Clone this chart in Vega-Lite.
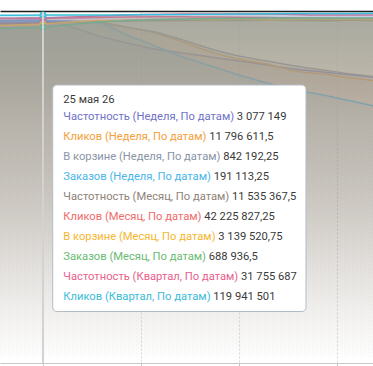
{
  "$schema": "https://vega.github.io/schema/vega-lite/v6.json",
  "width": 373,
  "height": 351,
  "autosize": {"type": "none"},
  "padding": {"top": 12, "left": 0, "right": 0, "bottom": 3},
  "background": "white",
  "config": {
    "view": {"stroke": null},
    "locale": {"number": {"decimal": ",", "thousands": " ", "grouping": [3], "currency": ["", ""]}},
    "text": {"font": "Roboto", "fontSize": 11.2}
  },
  "datasets": {
    "series": [
      {"date": "2026-05-21", "freq_w": 3069231, "clicks_w": 11713379, "cart_w": 837893, "orders_w": 190975, "freq_m": 11493161, "clicks_m": 42203696, "cart_m": 3120370, "orders_m": 685128, "freq_q": 31701852, "clicks_q": 119862378},
      {"date": "2026-05-23", "freq_w": 3073718, "clicks_w": 11748136, "cart_w": 839125, "orders_w": 190975, "freq_m": 11510113, "clicks_m": 42215947, "cart_m": 3129630, "orders_m": 687179, "freq_q": 31729458, "clicks_q": 119896851},
      {"date": "2026-05-25", "freq_w": 3077149, "clicks_w": 11796611.5, "cart_w": 842192.25, "orders_w": 191113.25, "freq_m": 11535367.5, "clicks_m": 42225827.25, "cart_m": 3139520.75, "orders_m": 688936.5, "freq_q": 31755687, "clicks_q": 119941501},
      {"date": "2026-05-27", "freq_w": 3015385, "clicks_w": 11835031, "cart_w": 840357, "orders_w": 190975, "freq_m": 11560967, "clicks_m": 42264950, "cart_m": 3157407, "orders_m": 694359, "freq_q": 31839885, "clicks_q": 119965797},
      {"date": "2026-05-29", "freq_w": 2934615, "clicks_w": 11835031, "cart_w": 837893, "orders_w": 189858, "freq_m": 11577919, "clicks_m": 42326203, "cart_m": 3171296, "orders_m": 699487, "freq_q": 31931908, "clicks_q": 119965797},
      {"date": "2026-05-31", "freq_w": 2871795, "clicks_w": 11678621, "cart_w": 826803, "orders_w": 183157, "freq_m": 11594871, "clicks_m": 42387457, "cart_m": 3175926, "orders_m": 702564, "freq_q": 32023931, "clicks_q": 120034742},
      {"date": "2026-06-02", "freq_w": 2817949, "clicks_w": 11470074, "cart_w": 815713, "orders_w": 177014, "freq_m": 11601652, "clicks_m": 42411958, "cart_m": 3180556, "orders_m": 704615, "freq_q": 32069943, "clicks_q": 120103688},
      {"date": "2026-06-04", "freq_w": 2782051, "clicks_w": 11157254, "cart_w": 795998, "orders_w": 170872, "freq_m": 11611822, "clicks_m": 42411958, "cart_m": 3183000, "orders_m": 705641, "freq_q": 32115954, "clicks_q": 120172634},
      {"date": "2026-06-06", "freq_w": 2746154, "clicks_w": 10809676, "cart_w": 773818, "orders_w": 165846, "freq_m": 11615000, "clicks_m": 42387457, "cart_m": 3179000, "orders_m": 706667, "freq_q": 32115954, "clicks_q": 120241580},
      {"date": "2026-06-08", "freq_w": 2710256, "clicks_w": 10566371, "cart_w": 756568, "orders_w": 160821, "freq_m": 11608000, "clicks_m": 42362955, "cart_m": 3182000, "orders_m": 706667, "freq_q": 32115954, "clicks_q": 120310526},
      {"date": "2026-06-10", "freq_w": 2674359, "clicks_w": 10392582, "cart_w": 744246, "orders_w": 156353, "freq_m": 11620000, "clicks_m": 42326203, "cart_m": 3178000, "orders_m": 707692, "freq_q": 32115954, "clicks_q": 120379472},
      {"date": "2026-06-12", "freq_w": 2638462, "clicks_w": 10149278, "cart_w": 731924, "orders_w": 152445, "freq_m": 11612000, "clicks_m": 42264950, "cart_m": 3181000, "orders_m": 707692, "freq_q": 32069943, "clicks_q": 120448418},
      {"date": "2026-06-14", "freq_w": 2611538, "clicks_w": 10045004, "cart_w": 722066, "orders_w": 149653, "freq_m": 11606000, "clicks_m": 42203696, "cart_m": 3184000, "orders_m": 707692, "freq_q": 32023931, "clicks_q": 120482891},
      {"date": "2026-06-16", "freq_w": 2584615, "clicks_w": 9905973, "cart_w": 712209, "orders_w": 146302, "freq_m": 11618000, "clicks_m": 42166944, "cart_m": 3180000, "orders_m": 707692, "freq_q": 32023931, "clicks_q": 120517364},
      {"date": "2026-06-18", "freq_w": 2557692, "clicks_w": 9801700, "cart_w": 704815, "orders_w": 142952, "freq_m": 11610000, "clicks_m": 42142442, "cart_m": 3182000, "orders_m": 707692, "freq_q": 32023931, "clicks_q": 120551837}
    ],
    "tip": [
      {"row": 1, "label": "Частотность (Неделя, По датам)", "value": 3077149},
      {"row": 2, "label": "Кликов (Неделя, По датам)", "value": 11796611.5},
      {"row": 3, "label": "В корзине (Неделя, По датам)", "value": 842192.25},
      {"row": 4, "label": "Заказов (Неделя, По датам)", "value": 191113.25},
      {"row": 5, "label": "Частотность (Месяц, По датам)", "value": 11535367.5},
      {"row": 6, "label": "Кликов (Месяц, По датам)", "value": 42225827.25},
      {"row": 7, "label": "В корзине (Месяц, По датам)", "value": 3139520.75},
      {"row": 8, "label": "Заказов (Месяц, По датам)", "value": 688936.5},
      {"row": 9, "label": "Частотность (Квартал, По датам)", "value": 31755687},
      {"row": 10, "label": "Кликов (Квартал, По датам)", "value": 119941501}
    ]
  },
  "resolve": {"scale": {"y": "independent"}, "axis": {"x": "independent"}},
  "layer": [
    {
      "data": {"name": "series"},
      "encoding": {
        "x": {
          "field": "date", "type": "temporal",
          "scale": {"type": "utc", "domain": [{"year": 2026, "month": 5, "date": 21, "hours": 22, "minutes": 17, "utc": true}, {"year": 2026, "month": 6, "date": 17, "hours": 13, "minutes": 43, "utc": true}]},
          "axis": {
            "values": [{"year": 2026, "month": 5, "date": 25, "utc": true}, {"year": 2026, "month": 6, "date": 1, "utc": true}, {"year": 2026, "month": 6, "date": 8, "utc": true}, {"year": 2026, "month": 6, "date": 15, "utc": true}],
            "labels": false, "title": null, "domainColor": "#c6c9cc", "tickColor": "#c6c9cc", "tickSize": 3,
            "grid": true, "gridColor": "#d6d6d6", "gridDash": [2, 2]
          }
        }
      },
      "resolve": {"scale": {"y": "independent"}},
      "layer": [
        {"layer": [
          {"mark": {"type": "area", "interpolate": "monotone", "clip": true, "line": {"color": "#6f72c8", "strokeWidth": 1.5}, "color": {"gradient": "linear", "x1": 0, "y1": 0, "x2": 0, "y2": 1, "stops": [{"offset": 0, "color": "rgba(111,114,200,0.38)"}, {"offset": 0.15, "color": "rgba(111,114,200,0.28)"}, {"offset": 0.3, "color": "rgba(111,114,200,0.18)"}, {"offset": 0.5, "color": "rgba(111,114,200,0.115)"}, {"offset": 0.7, "color": "rgba(111,114,200,0.055)"}, {"offset": 0.85, "color": "rgba(111,114,200,0.025)"}, {"offset": 1, "color": "rgba(111,114,200,0)"}]}}},
          {"transform": [{"filter": "time(datum.date) === utc(2026,4,25)"}], "mark": {"type": "point", "shape": "circle", "filled": true, "fill": "white", "stroke": "#6f72c8", "strokeWidth": 2, "size": 24, "opacity": 1}}
        ], "encoding": {"y": {"field": "freq_w", "type": "quantitative", "scale": {"domain": [0, 3150000], "nice": false, "zero": true}, "axis": null}}},
        {"layer": [
          {"mark": {"type": "area", "interpolate": "monotone", "clip": true, "line": {"color": "#f5a03a", "strokeWidth": 1.5}, "color": {"gradient": "linear", "x1": 0, "y1": 0, "x2": 0, "y2": 1, "stops": [{"offset": 0, "color": "rgba(245,160,58,0.38)"}, {"offset": 0.15, "color": "rgba(245,160,58,0.28)"}, {"offset": 0.3, "color": "rgba(245,160,58,0.18)"}, {"offset": 0.5, "color": "rgba(245,160,58,0.115)"}, {"offset": 0.7, "color": "rgba(245,160,58,0.055)"}, {"offset": 0.85, "color": "rgba(245,160,58,0.025)"}, {"offset": 1, "color": "rgba(245,160,58,0)"}]}}},
          {"transform": [{"filter": "time(datum.date) === utc(2026,4,25)"}], "mark": {"type": "point", "shape": "circle", "filled": true, "fill": "white", "stroke": "#f5a03a", "strokeWidth": 2, "size": 24, "opacity": 1}}
        ], "encoding": {"y": {"field": "clicks_w", "type": "quantitative", "scale": {"domain": [0, 12200000], "nice": false, "zero": true}, "axis": null}}},
        {"layer": [
          {"mark": {"type": "area", "interpolate": "monotone", "clip": true, "line": {"color": "#8a94a6", "strokeWidth": 1.5}, "color": {"gradient": "linear", "x1": 0, "y1": 0, "x2": 0, "y2": 1, "stops": [{"offset": 0, "color": "rgba(138,148,166,0.38)"}, {"offset": 0.15, "color": "rgba(138,148,166,0.28)"}, {"offset": 0.3, "color": "rgba(138,148,166,0.18)"}, {"offset": 0.5, "color": "rgba(138,148,166,0.115)"}, {"offset": 0.7, "color": "rgba(138,148,166,0.055)"}, {"offset": 0.85, "color": "rgba(138,148,166,0.025)"}, {"offset": 1, "color": "rgba(138,148,166,0)"}]}}},
          {"transform": [{"filter": "time(datum.date) === utc(2026,4,25)"}], "mark": {"type": "point", "shape": "circle", "filled": true, "fill": "white", "stroke": "#8a94a6", "strokeWidth": 2, "size": 24, "opacity": 1}}
        ], "encoding": {"y": {"field": "cart_w", "type": "quantitative", "scale": {"domain": [0, 865000], "nice": false, "zero": true}, "axis": null}}},
        {"layer": [
          {"mark": {"type": "area", "interpolate": "monotone", "clip": true, "line": {"color": "#4ab5ea", "strokeWidth": 1.5}, "color": {"gradient": "linear", "x1": 0, "y1": 0, "x2": 0, "y2": 1, "stops": [{"offset": 0, "color": "rgba(74,181,234,0.38)"}, {"offset": 0.15, "color": "rgba(74,181,234,0.28)"}, {"offset": 0.3, "color": "rgba(74,181,234,0.18)"}, {"offset": 0.5, "color": "rgba(74,181,234,0.115)"}, {"offset": 0.7, "color": "rgba(74,181,234,0.055)"}, {"offset": 0.85, "color": "rgba(74,181,234,0.025)"}, {"offset": 1, "color": "rgba(74,181,234,0)"}]}}},
          {"transform": [{"filter": "time(datum.date) === utc(2026,4,25)"}], "mark": {"type": "point", "shape": "circle", "filled": true, "fill": "white", "stroke": "#4ab5ea", "strokeWidth": 2, "size": 24, "opacity": 1}}
        ], "encoding": {"y": {"field": "orders_w", "type": "quantitative", "scale": {"domain": [0, 196000], "nice": false, "zero": true}, "axis": null}}},
        {"layer": [
          {"mark": {"type": "area", "interpolate": "monotone", "clip": true, "line": {"color": "#8f8278", "strokeWidth": 1.5}, "color": {"gradient": "linear", "x1": 0, "y1": 0, "x2": 0, "y2": 1, "stops": [{"offset": 0, "color": "rgba(143,130,120,0.38)"}, {"offset": 0.15, "color": "rgba(143,130,120,0.28)"}, {"offset": 0.3, "color": "rgba(143,130,120,0.18)"}, {"offset": 0.5, "color": "rgba(143,130,120,0.115)"}, {"offset": 0.7, "color": "rgba(143,130,120,0.055)"}, {"offset": 0.85, "color": "rgba(143,130,120,0.025)"}, {"offset": 1, "color": "rgba(143,130,120,0)"}]}}},
          {"transform": [{"filter": "time(datum.date) === utc(2026,4,25)"}], "mark": {"type": "point", "shape": "circle", "filled": true, "fill": "white", "stroke": "#8f8278", "strokeWidth": 2, "size": 24, "opacity": 1}}
        ], "encoding": {"y": {"field": "freq_m", "type": "quantitative", "scale": {"domain": [0, 11900000], "nice": false, "zero": true}, "axis": null}}},
        {"layer": [
          {"mark": {"type": "area", "interpolate": "monotone", "clip": true, "line": {"color": "#ef6b6b", "strokeWidth": 1.5}, "color": {"gradient": "linear", "x1": 0, "y1": 0, "x2": 0, "y2": 1, "stops": [{"offset": 0, "color": "rgba(239,107,107,0.38)"}, {"offset": 0.15, "color": "rgba(239,107,107,0.28)"}, {"offset": 0.3, "color": "rgba(239,107,107,0.18)"}, {"offset": 0.5, "color": "rgba(239,107,107,0.115)"}, {"offset": 0.7, "color": "rgba(239,107,107,0.055)"}, {"offset": 0.85, "color": "rgba(239,107,107,0.025)"}, {"offset": 1, "color": "rgba(239,107,107,0)"}]}}},
          {"transform": [{"filter": "time(datum.date) === utc(2026,4,25)"}], "mark": {"type": "point", "shape": "circle", "filled": true, "fill": "white", "stroke": "#ef6b6b", "strokeWidth": 2, "size": 24, "opacity": 1}}
        ], "encoding": {"y": {"field": "clicks_m", "type": "quantitative", "scale": {"domain": [0, 43000000], "nice": false, "zero": true}, "axis": null}}},
        {"layer": [
          {"mark": {"type": "area", "interpolate": "monotone", "clip": true, "line": {"color": "#f6b62f", "strokeWidth": 1.5}, "color": {"gradient": "linear", "x1": 0, "y1": 0, "x2": 0, "y2": 1, "stops": [{"offset": 0, "color": "rgba(246,182,47,0.38)"}, {"offset": 0.15, "color": "rgba(246,182,47,0.28)"}, {"offset": 0.3, "color": "rgba(246,182,47,0.18)"}, {"offset": 0.5, "color": "rgba(246,182,47,0.115)"}, {"offset": 0.7, "color": "rgba(246,182,47,0.055)"}, {"offset": 0.85, "color": "rgba(246,182,47,0.025)"}, {"offset": 1, "color": "rgba(246,182,47,0)"}]}}},
          {"transform": [{"filter": "time(datum.date) === utc(2026,4,25)"}], "mark": {"type": "point", "shape": "circle", "filled": true, "fill": "white", "stroke": "#f6b62f", "strokeWidth": 2, "size": 24, "opacity": 1}}
        ], "encoding": {"y": {"field": "cart_m", "type": "quantitative", "scale": {"domain": [0, 3250000], "nice": false, "zero": true}, "axis": null}}},
        {"layer": [
          {"mark": {"type": "area", "interpolate": "monotone", "clip": true, "line": {"color": "#69bb72", "strokeWidth": 1.5}, "color": {"gradient": "linear", "x1": 0, "y1": 0, "x2": 0, "y2": 1, "stops": [{"offset": 0, "color": "rgba(105,187,114,0.38)"}, {"offset": 0.15, "color": "rgba(105,187,114,0.28)"}, {"offset": 0.3, "color": "rgba(105,187,114,0.18)"}, {"offset": 0.5, "color": "rgba(105,187,114,0.115)"}, {"offset": 0.7, "color": "rgba(105,187,114,0.055)"}, {"offset": 0.85, "color": "rgba(105,187,114,0.025)"}, {"offset": 1, "color": "rgba(105,187,114,0)"}]}}},
          {"transform": [{"filter": "time(datum.date) === utc(2026,4,25)"}], "mark": {"type": "point", "shape": "circle", "filled": true, "fill": "white", "stroke": "#69bb72", "strokeWidth": 2, "size": 24, "opacity": 1}}
        ], "encoding": {"y": {"field": "orders_m", "type": "quantitative", "scale": {"domain": [0, 720000], "nice": false, "zero": true}, "axis": null}}},
        {"layer": [
          {"mark": {"type": "area", "interpolate": "monotone", "clip": true, "line": {"color": "#ea5f8c", "strokeWidth": 1.5}, "color": {"gradient": "linear", "x1": 0, "y1": 0, "x2": 0, "y2": 1, "stops": [{"offset": 0, "color": "rgba(234,95,140,0.38)"}, {"offset": 0.15, "color": "rgba(234,95,140,0.28)"}, {"offset": 0.3, "color": "rgba(234,95,140,0.18)"}, {"offset": 0.5, "color": "rgba(234,95,140,0.115)"}, {"offset": 0.7, "color": "rgba(234,95,140,0.055)"}, {"offset": 0.85, "color": "rgba(234,95,140,0.025)"}, {"offset": 1, "color": "rgba(234,95,140,0)"}]}}},
          {"transform": [{"filter": "time(datum.date) === utc(2026,4,25)"}], "mark": {"type": "point", "shape": "circle", "filled": true, "fill": "white", "stroke": "#ea5f8c", "strokeWidth": 2, "size": 24, "opacity": 1}}
        ], "encoding": {"y": {"field": "freq_q", "type": "quantitative", "scale": {"domain": [0, 32300000], "nice": false, "zero": true}, "axis": null}}},
        {"layer": [
          {"mark": {"type": "area", "interpolate": "monotone", "clip": true, "line": {"color": "#3bbcd8", "strokeWidth": 1.5}, "color": {"gradient": "linear", "x1": 0, "y1": 0, "x2": 0, "y2": 1, "stops": [{"offset": 0, "color": "rgba(59,188,216,0.38)"}, {"offset": 0.15, "color": "rgba(59,188,216,0.28)"}, {"offset": 0.3, "color": "rgba(59,188,216,0.18)"}, {"offset": 0.5, "color": "rgba(59,188,216,0.115)"}, {"offset": 0.7, "color": "rgba(59,188,216,0.055)"}, {"offset": 0.85, "color": "rgba(59,188,216,0.025)"}, {"offset": 1, "color": "rgba(59,188,216,0)"}]}}},
          {"transform": [{"filter": "time(datum.date) === utc(2026,4,25)"}], "mark": {"type": "point", "shape": "circle", "filled": true, "fill": "white", "stroke": "#3bbcd8", "strokeWidth": 2, "size": 24, "opacity": 1}}
        ], "encoding": {"y": {"field": "clicks_q", "type": "quantitative", "scale": {"domain": [0, 121000000], "nice": false, "zero": true}, "axis": null}}},
        {"mark": {"type": "rule", "color": "#d2d2d2", "strokeWidth": 1}, "encoding": {"x": {"datum": {"year": 2026, "month": 5, "date": 25, "utc": true}, "type": "temporal"}}}
      ]
    },
    {
      "data": {"name": "tip"},
      "encoding": {
        "y": {"field": "row", "type": "quantitative", "scale": {"domain": [-4.235, 13.315], "reverse": true, "nice": false, "zero": false}, "axis": null}
      },
      "layer": [
        {
          "transform": [{"filter": "datum.row === 1"}],
          "mark": {"type": "rect", "fill": "white", "stroke": "#b3bbc5", "strokeWidth": 1, "cornerRadius": 4},
          "encoding": {
            "x": {"datum": {"year": 2026, "month": 5, "date": 25, "hours": 16, "minutes": 38, "utc": true}, "type": "temporal",
                  "axis": {"orient": "top", "labels": false, "ticks": false, "grid": false, "title": null, "domainColor": "#1c1c1c", "domainWidth": 1.5, "offset": 1}},
            "x2": {"datum": {"year": 2026, "month": 6, "date": 12, "hours": 18, "minutes": 51, "utc": true}},
            "y": {"datum": -0.585, "type": "quantitative"},
            "y2": {"datum": 10.74}
          }
        },
        {
          "transform": [{"filter": "datum.row === 1"}],
          "mark": {"type": "text", "align": "left", "baseline": "middle", "color": "#3a3a3a", "text": "25 мая 26"},
          "encoding": {
            "x": {"datum": {"year": 2026, "month": 5, "date": 26, "hours": 10, "minutes": 48, "utc": true}, "type": "temporal"},
            "y": {"datum": 0.14, "type": "quantitative"}
          }
        },
        {
          "mark": {"type": "text", "align": "left", "baseline": "middle", "color": "#3a3a3a", "text": {"expr": "datum.label + '  ' + format(datum.value, ',.2~f')"}},
          "encoding": {"x": {"datum": {"year": 2026, "month": 5, "date": 26, "hours": 10, "minutes": 48, "utc": true}, "type": "temporal"}}
        },
        {
          "mark": {"type": "text", "align": "left", "baseline": "middle", "fill": "white", "stroke": "white", "strokeWidth": 2},
          "encoding": {"x": {"datum": {"year": 2026, "month": 5, "date": 26, "hours": 10, "minutes": 48, "utc": true}, "type": "temporal"}, "text": {"field": "label"}}
        },
        {
          "mark": {"type": "text", "align": "left", "baseline": "middle"},
          "encoding": {
            "x": {"datum": {"year": 2026, "month": 5, "date": 26, "hours": 10, "minutes": 48, "utc": true}, "type": "temporal"},
            "text": {"field": "label"},
            "color": {"field": "label", "type": "nominal", "legend": null,
              "scale": {"domain": ["Частотность (Неделя, По датам)", "Кликов (Неделя, По датам)", "В корзине (Неделя, По датам)", "Заказов (Неделя, По датам)", "Частотность (Месяц, По датам)", "Кликов (Месяц, По датам)", "В корзине (Месяц, По датам)", "Заказов (Месяц, По датам)", "Частотность (Квартал, По датам)", "Кликов (Квартал, По датам)"],
                        "range": ["#6f72c8", "#f5a03a", "#8a94a6", "#4ab5ea", "#8f8278", "#ef6b6b", "#f6b62f", "#69bb72", "#ea5f8c", "#3bbcd8"]}}
          }
        }
      ]
    }
  ]
}
